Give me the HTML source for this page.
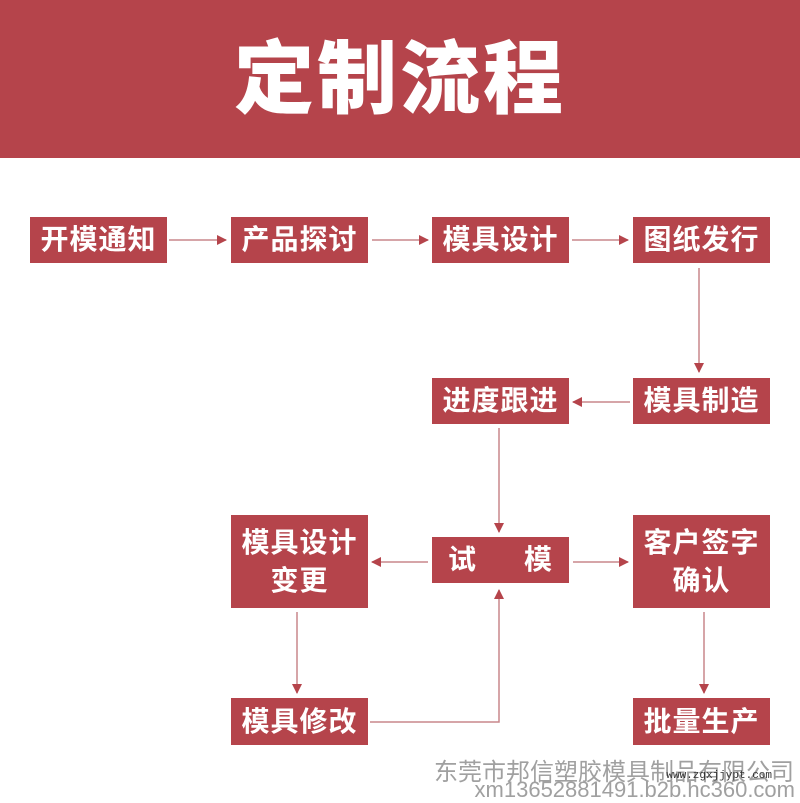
<!DOCTYPE html>
<html><head><meta charset="utf-8"><style>
body{margin:0;width:800px;height:800px;background:#fff;position:relative;overflow:hidden;font-family:"Liberation Sans","Noto Sans CJK SC",sans-serif}
.hdr{position:absolute;left:0;top:0;width:800px;height:158px;background:#b5444b;color:#fff;font-weight:900;font-size:80px;text-align:center;line-height:160px;letter-spacing:3px}
.b{position:absolute;background:#b5444b;color:#fff;font-weight:700;font-size:28px;display:flex;align-items:center;justify-content:center;text-align:center;line-height:38px;letter-spacing:1px}
.wm{position:absolute;right:6px;color:#a0a0a0;white-space:nowrap}
svg{position:absolute;left:0;top:0}
</style></head><body>
<div class="hdr">定制流程</div>
<svg width="800" height="800">
<defs><marker id="a" markerWidth="10" markerHeight="10" refX="9" refY="5" orient="auto" markerUnits="userSpaceOnUse"><path d="M0,0 L10,5 L0,10 z" fill="#b5444b"/></marker></defs>
<g stroke="#c9878b" stroke-width="1.5" fill="none" marker-end="url(#a)">
<line x1="169" y1="240" x2="226" y2="240"/>
<line x1="372" y1="240" x2="428" y2="240"/>
<line x1="572" y1="240" x2="628" y2="240"/>
<line x1="699" y1="268" x2="699" y2="372"/>
<line x1="630" y1="402" x2="573" y2="402"/>
<line x1="499" y1="428" x2="499" y2="532"/>
<line x1="428" y1="562" x2="372" y2="562"/>
<line x1="573" y1="562" x2="628" y2="562"/>
<line x1="297" y1="612" x2="297" y2="693"/>
<line x1="704" y1="612" x2="704" y2="693"/>
<polyline points="370,722 499,722 499,590"/>
</g></svg>
<div class="b" style="left:30px;top:217px;width:137px;height:46px">开模通知</div>
<div class="b" style="left:231px;top:217px;width:137px;height:46px">产品探讨</div>
<div class="b" style="left:432px;top:217px;width:137px;height:46px">模具设计</div>
<div class="b" style="left:633px;top:217px;width:137px;height:46px">图纸发行</div>
<div class="b" style="left:432px;top:378px;width:137px;height:46px">进度跟进</div>
<div class="b" style="left:633px;top:378px;width:137px;height:46px">模具制造</div>
<div class="b" style="left:231px;top:515px;width:137px;height:93px">模具设计<br>变更</div>
<div class="b" style="left:432px;top:537px;width:137px;height:46px;justify-content:space-between;padding:0 16px;box-sizing:border-box"><span>试</span><span>模</span></div>
<div class="b" style="left:633px;top:515px;width:137px;height:93px">客户签字<br>确认</div>
<div class="b" style="left:231px;top:698px;width:137px;height:47px">模具修改</div>
<div class="b" style="left:633px;top:698px;width:137px;height:47px">批量生产</div>
<div class="wm" style="top:752px;font-size:24px;right:6px">东莞市邦信塑胶模具制品有限公司</div>
<div class="wm" style="top:777px;font-size:22px;right:5px">xm13652881491.b2b.hc360.com</div>
<div class="wm" style="top:770px;font-size:11px;right:28px;color:#333;font-family:'Liberation Mono',monospace">www.zgxjjypt.com</div>
</body></html>
